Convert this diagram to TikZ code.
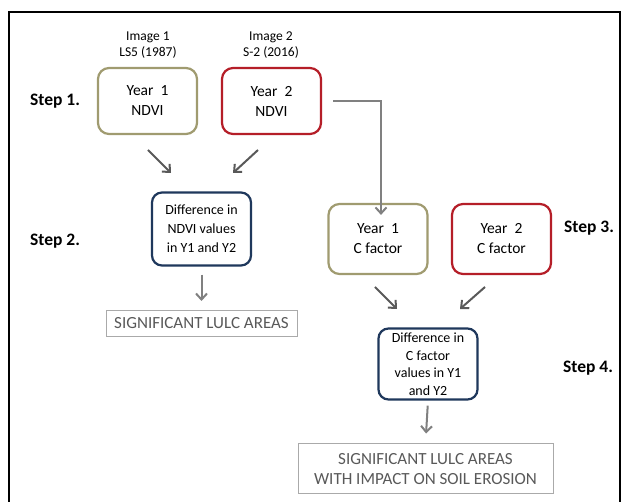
\documentclass[tikz,border=0pt]{standalone}
\usepackage{fontspec}
\setmainfont{Carlito}
\usetikzlibrary{arrows.meta}
\definecolor{olivec}{RGB}{160,155,112}
\definecolor{redc}{RGB}{181,30,40}
\definecolor{navyc}{RGB}{31,56,92}
\definecolor{arrdark}{RGB}{89,89,89}
\definecolor{arrlight}{RGB}{128,128,128}
\definecolor{sigline}{RGB}{170,170,170}
\definecolor{sigtext}{RGB}{89,89,89}
\tikzset{
  yearbox/.style={draw, line width=2.2pt, rounded corners=11pt, minimum width=99pt, minimum height=66pt, align=center, font=\fontsize{15.5}{20}\selectfont, inner sep=0pt},
  diffbox/.style={draw=navyc, line width=2.2pt, rounded corners=10pt, minimum width=99pt, align=center, font=\fontsize{14}{19}\selectfont, inner sep=0pt},
  sigbox/.style={draw=sigline, line width=1pt, align=center, text=sigtext, font=\fontsize{17}{20.5}\selectfont, inner sep=0pt},
  steplabel/.style={font=\bfseries\fontsize{17.5}{20}\selectfont, anchor=west, inner sep=0pt},
  imglabel/.style={align=center, font=\fontsize{13.5}{15.5}\selectfont, inner sep=0pt},
  arrd/.style={draw=arrdark, line width=2pt, -{Straight Barb[length=6pt,width=11pt,line width=2pt]}},
  arrl/.style={draw=arrlight, line width=2pt, -{Straight Barb[length=6pt,width=11pt,line width=2pt]}},
}
\begin{document}
\begin{tikzpicture}[x=1pt,y=-1pt]
\useasboundingbox (0,0) rectangle (622,502);
\fill[white] (0,0) rectangle (622,502);
\begin{scope}
\clip (0,0) rectangle (622,502);
\draw[line width=1.6pt, black] (9,12) rectangle (620,515);
\end{scope}

% Step 1
\node[yearbox, draw=olivec] (y1n) at (147.5,101) {Year\ \ 1\\NDVI};
\node[yearbox, draw=redc] (y2n) at (271.5,101) {Year\ \ 2\\NDVI};
\node[imglabel] (img1) at (148,45) {Image 1\\LS5 (1987)};
\node[imglabel] (img2) at (271,45) {Image 2\\S-2 (2016)};
\node[steplabel] (s1) at (30,101) {Step 1.};

% Step 2
\node[diffbox, minimum height=73pt] (dn) at (201.5,229) {Difference in\\NDVI values\\in Y1 and Y2};
\node[steplabel] (s2) at (30,241) {Step 2.};
\node[sigbox, minimum width=191pt, minimum height=26pt] (sig) at (201.5,323.5) {SIGNIFICANT LULC AREAS};

% Step 3
\node[yearbox, draw=olivec, minimum height=70pt] (y1c) at (378,239) {Year\ \ 1\\C factor};
\node[yearbox, draw=redc, minimum height=70pt] (y2c) at (501.5,239) {Year\ \ 2\\C factor};
\node[steplabel] (s3) at (564,228) {Step 3.};

% Step 4
\node[diffbox, minimum height=71pt, font=\fontsize{14}{17.5}\selectfont] (dc) at (428,364) {Difference in\\C factor\\values in Y1\\and Y2};
\node[steplabel] (s4) at (563,368) {Step 4.};
\node[sigbox, minimum width=255pt, minimum height=50pt] (sig2) at (425.5,469) {SIGNIFICANT LULC AREAS\\WITH IMPACT ON SOIL EROSION};

% arrow end coordinates
\coordinate (a1s) at (148,150);
\coordinate (a1e) at (171,173);
\coordinate (a2s) at (258,150);
\coordinate (a2e) at (233,173);
\coordinate (a3s) at (375,287);
\coordinate (a3e) at (397,309);
\coordinate (a4s) at (485,287);
\coordinate (a4e) at (460,309);

\draw[arrd] (a1s) -- (a1e);
\draw[arrd] (a2s) -- (a2e);
\draw[arrd] (a3s) -- (a3e);
\draw[arrd] (a4s) -- (a4e);

\draw[arrl, shorten <=8pt, shorten >=9pt] (dn.south) -- (sig.north);
\draw[arrl, shorten <=5pt, shorten >=10pt] (dc.south) -- (sig2.north);
\coordinate (elb) at (381,101);
\draw[arrl, shorten <=11pt, line join=miter] (y2n.east) -- (elb) -- ([xshift=3pt,yshift=-12pt]y1c.north);
\end{tikzpicture}
\end{document}
